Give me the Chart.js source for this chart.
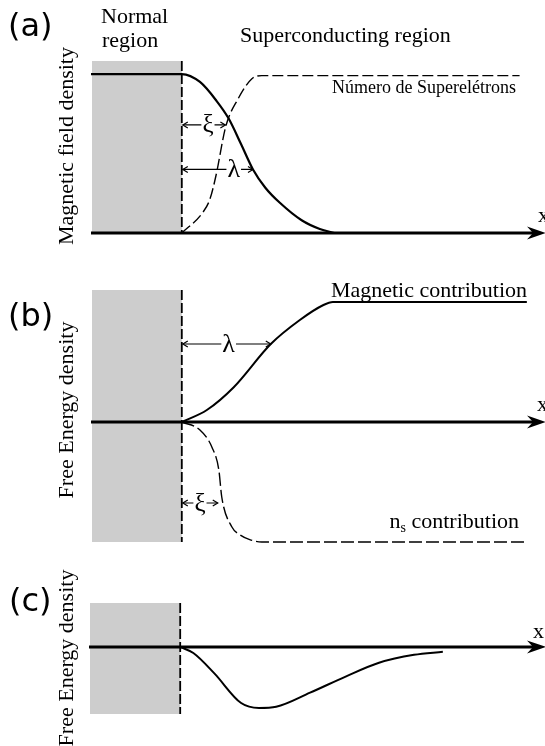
<!DOCTYPE html>
<html>
<head>
<meta charset="utf-8">
<title>Normal / superconducting interface</title>
<script src="https://cdn.jsdelivr.net/npm/chart.js@4.4.1/dist/chart.umd.min.js"></script>
<style>
body{margin:0;background:#fff}
.fig{position:relative;width:545px;height:746px;overflow:hidden}
.fig canvas{position:absolute;left:0}
</style>
</head>
<body>
<div class="fig">
  <canvas id="panelA" width="545" height="260" style="top:0"></canvas>
  <canvas id="panelB" width="545" height="300" style="top:260px"></canvas>
  <canvas id="panelC" width="545" height="186" style="top:560px"></canvas>
</div>
<script>
// x: distance from the interface (normal side < 0), y: normalised quantity

// (a) magnetic field and superelectron density
const fieldX = [-2.5, 0, 0.5, 0.96, 1.29, 1.63, 1.96, 2.3, 2.7, 3.3, 3.8, 4.2];
const fieldB = [1, 1, 0.95, 0.83, 0.72, 0.56, 0.40, 0.285, 0.19, 0.08, 0.025, 0];
const superX = [0, 0.58, 0.77, 0.94, 1.21, 1.54, 1.93, 2.2, 9.3];
const superN = [0, 0.13, 0.21, 0.36, 0.67, 0.84, 0.97, 0.99, 0.99];

// (b) magnetic and n_s contributions to the free energy
const magX = [0, 0.69, 1.43, 2.45, 3.25, 3.9, 4.16, 9.5];
const magF = [0, 0.10, 0.29, 0.65, 0.85, 0.975, 1, 1];
const nsX = [0, 0.5, 0.83, 1.02, 1.1, 1.38, 1.6, 1.87, 2.2, 9.5];
const nsF = [0, -0.067, -0.21, -0.4, -0.625, -0.875, -0.94, -0.98, -1, -1];

// (c) total free energy
const totalX = [0, 0.36, 0.93, 1.67, 2.16, 2.63, 3.56, 4.52, 5.45, 6.41, 7.2];
const totalF = [0, -0.10, -0.43, -0.92, -1.0, -0.98, -0.75, -0.49, -0.26, -0.13, -0.08];

// characteristic lengths marked on the plots
const xiA = 1.2, lambdaA = 1.96;
const xiB = 0.99, lambdaB = 2.45;

const X_MIN = -2.5, X_MAX = 10;
const SERIF = '"Liberation Serif", "DejaVu Serif", serif';
const SANS = '"DejaVu Sans", sans-serif';

const pts = (xs, ys) => xs.map((x, i) => ({ x, y: ys[i] }));

const curve = (xs, ys, dash, width) => ({
  data: pts(xs, ys),
  borderColor: '#000',
  borderWidth: width || 2,
  borderDash: dash || [],
  cubicInterpolationMode: 'monotone',
  pointRadius: 0,
  fill: false,
  clip: false
});

function smallHead(ctx, x, y, dir) {
  ctx.beginPath();
  ctx.moveTo(x + dir * -5, y - 3);
  ctx.lineTo(x, y);
  ctx.lineTo(x + dir * -5, y + 3);
  ctx.stroke();
}

const schematic = {
  id: 'schematic',
  beforeDatasetsDraw(chart, args, o) {
    const { ctx, chartArea: a, scales: { x } } = chart;
    const x0 = x.getPixelForValue(0);
    ctx.save();
    ctx.fillStyle = '#cdcdcd';
    ctx.fillRect(a.left + 1, a.top, x0 - a.left - 1, a.bottom - a.top);
    ctx.strokeStyle = '#000';
    ctx.lineWidth = 1.8;
    ctx.setLineDash([10, 3]);
    ctx.beginPath();
    ctx.moveTo(x0, a.top);
    ctx.lineTo(x0, a.bottom);
    ctx.stroke();
    ctx.restore();
  },
  afterDatasetsDraw(chart, args, o) {
    const { ctx, chartArea: a, scales: { x, y } } = chart;
    const y0 = y.getPixelForValue(0);
    const tip = chart.width + 1;
    ctx.save();

    // x axis with arrow
    ctx.strokeStyle = '#000';
    ctx.fillStyle = '#000';
    ctx.lineWidth = 3;
    ctx.beginPath();
    ctx.moveTo(a.left, y0);
    ctx.lineTo(tip - 12, y0);
    ctx.stroke();
    ctx.beginPath();
    ctx.moveTo(tip, y0);
    ctx.lineTo(tip - 19, y0 - 6.5);
    ctx.lineTo(tip - 13, y0);
    ctx.lineTo(tip - 19, y0 + 6.5);
    ctx.closePath();
    ctx.fill();
    ctx.font = '22px ' + SERIF;
    ctx.textAlign = 'left';
    ctx.textBaseline = 'alphabetic';
    ctx.fillText('x', o.xLabel, y0 - o.xLabelGap);

    // length scales
    ctx.lineWidth = 1.2;
    (o.dims || []).forEach(d => {
      const yy = y.getPixelForValue(d.y);
      const xa = x.getPixelForValue(0) + 1, xb = x.getPixelForValue(d.to);
      const xs = x.getPixelForValue(d.at);
      ctx.font = d.size + 'px ' + SERIF;
      const w = ctx.measureText(d.sym).width;
      ctx.beginPath();
      ctx.moveTo(xa, yy); ctx.lineTo(xs - w / 2 - 1, yy);
      ctx.moveTo(xs + w / 2 + 1, yy); ctx.lineTo(xb, yy);
      ctx.stroke();
      smallHead(ctx, xa, yy, -1);
      smallHead(ctx, xb, yy, 1);
      ctx.textAlign = 'center';
      ctx.textBaseline = 'middle';
      ctx.fillText(d.sym, xs, yy + 1);
    });

    // labels
    ctx.textBaseline = 'alphabetic';
    (o.notes || []).forEach(n => {
      ctx.font = n.font;
      if (n.sub) {
        const fs = n.subFont;
        const w1 = ctx.measureText(n.text).width;
        const w3 = ctx.measureText(n.rest).width;
        ctx.font = fs;
        const w2 = ctx.measureText(n.sub).width;
        const left = n.x - (w1 + w2 + w3);
        ctx.textAlign = 'left';
        ctx.font = n.font;
        ctx.fillText(n.text, left, n.y);
        ctx.font = fs;
        ctx.fillText(n.sub, left + w1, n.y + 4);
        ctx.font = n.font;
        ctx.fillText(n.rest, left + w1 + w2, n.y);
      } else {
        ctx.textAlign = n.align || 'left';
        ctx.fillText(n.text, n.x, n.y);
      }
    });

    // vertical axis title
    const t = o.yTitle;
    ctx.translate(t.x, t.y);
    ctx.rotate(-Math.PI / 2);
    ctx.font = t.size + 'px ' + SERIF;
    ctx.textAlign = 'center';
    ctx.textBaseline = 'middle';
    ctx.fillText(t.text, 0, 0);
    ctx.restore();
  }
};

function panel(id, datasets, padding, yMin, yMax, opts) {
  return new Chart(document.getElementById(id), {
    type: 'line',
    data: { datasets },
    options: {
      responsive: false,
      animation: false,
      events: [],
      layout: { padding },
      plugins: { legend: { display: false }, tooltip: { enabled: false }, schematic: opts },
      scales: {
        x: { type: 'linear', display: false, min: X_MIN, max: X_MAX },
        y: { type: 'linear', display: false, min: yMin, max: yMax }
      }
    },
    plugins: [schematic]
  });
}

panel('panelA', [
  curve(fieldX, fieldB, null, 2.2),
  curve(superX, superN, [11, 4], 1.4)
], { left: 91, right: 0, top: 61, bottom: 27 }, 0, 1.082, {
  xLabel: 538, xLabelGap: 11,
  dims: [
    { sym: 'ξ', y: 0.68, to: xiA, at: 0.72, size: 25 },
    { sym: 'λ', y: 0.40, to: lambdaA, at: 1.43, size: 26 }
  ],
  notes: [
    { text: '(a)', x: 8, y: 36, font: '32px ' + SANS },
    { text: 'Normal', x: 101, y: 23, font: '22px ' + SERIF },
    { text: 'region', x: 102, y: 47, font: '22px ' + SERIF },
    { text: 'Superconducting region', x: 240, y: 42, font: '22px ' + SERIF },
    { text: 'Número de Superelétrons', x: 516, y: 93, align: 'right', font: '18px ' + SERIF }
  ],
  yTitle: { text: 'Magnetic field density', x: 67, y: 146, size: 22 }
});

panel('panelB', [
  curve(magX, magF, null, 2),
  curve(nsX, nsF, [13, 4], 1.4)
], { left: 91, right: 0, top: 30, bottom: 18 }, -1, 1.1, {
  xLabel: 537, xLabelGap: 11,
  dims: [
    { sym: 'ξ', y: -0.675, to: xiB, at: 0.5, size: 25 },
    { sym: 'λ', y: 0.65, to: lambdaB, at: 1.29, size: 26 }
  ],
  notes: [
    { text: '(b)', x: 8, y: 66, font: '32px ' + SANS },
    { text: 'Magnetic contribution', x: 527, y: 37, align: 'right', font: '22px ' + SERIF },
    { text: 'n', sub: 's', rest: ' contribution', x: 519, y: 268, font: '22px ' + SERIF, subFont: '14px ' + SERIF }
  ],
  yTitle: { text: 'Free Energy density', x: 67, y: 150, size: 22 }
});

panel('panelC', [
  curve(totalX, totalF, null, 2)
], { left: 89, right: 0, top: 43, bottom: 32 }, -1.1, 0.72, {
  xLabel: 533, xLabelGap: 9,
  notes: [
    { text: '(c)', x: 9, y: 51, font: '32px ' + SANS }
  ],
  yTitle: { text: 'Free Energy density', x: 67, y: 98, size: 22 }
});
</script>
</body>
</html>
